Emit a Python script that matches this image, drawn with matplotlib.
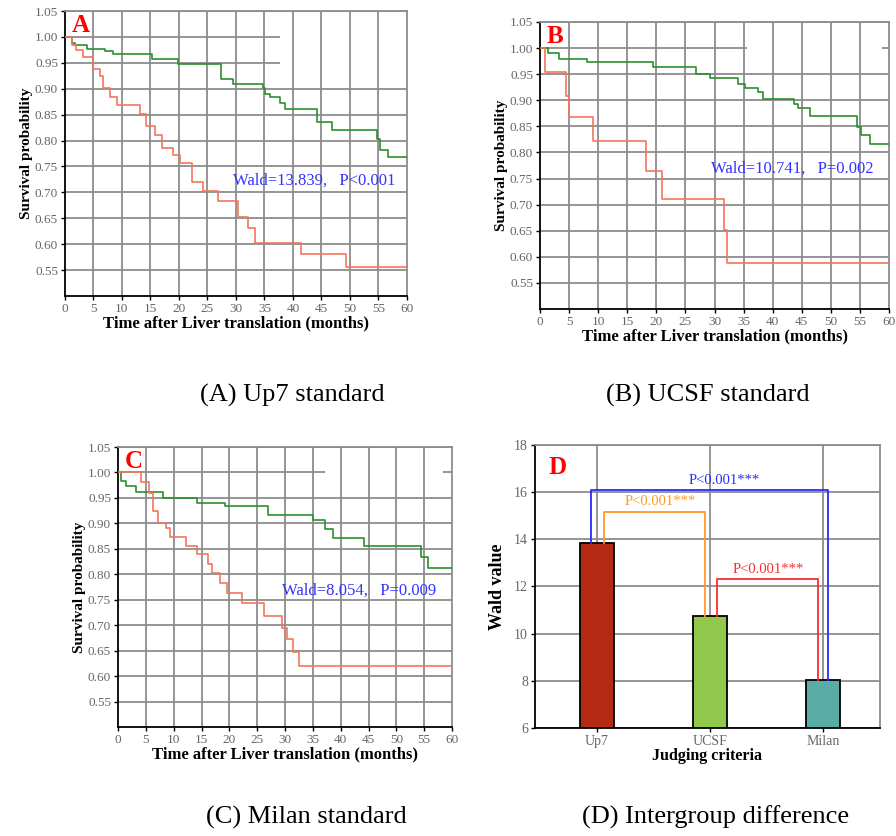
import matplotlib
matplotlib.use("Agg")
import matplotlib.pyplot as plt
from matplotlib.patches import Rectangle

plt.rcParams["font.family"] = ["Liberation Serif", "DejaVu Serif"]

# Kaplan-Meier curves: step times (months) and survival after each step.
a_green_t = [0, 1.2, 1.8, 3.9, 7.0, 8.5, 15.2, 19.9, 27.4, 29.5, 34.8, 35.1, 36.0, 37.7, 38.6, 44.3, 46.9, 54.8, 55.3, 56.7, 60]
a_green_s = [1.00, 0.989, 0.985, 0.976, 0.973, 0.968, 0.958, 0.948, 0.919, 0.910, 0.901, 0.890, 0.884, 0.873, 0.860, 0.836, 0.820, 0.803, 0.782, 0.768, 0.768]
a_red_t = [0, 1.2, 2.0, 3.1, 5.0, 6.1, 6.7, 7.9, 9.1, 13.2, 14.2, 15.8, 17.1, 19.0, 20.2, 22.2, 24.2, 26.9, 30.3, 32.1, 33.3, 41.4, 49.3, 60]
a_red_s = [1.00, 0.984, 0.975, 0.961, 0.938, 0.925, 0.901, 0.885, 0.868, 0.852, 0.828, 0.810, 0.785, 0.772, 0.756, 0.720, 0.702, 0.683, 0.653, 0.631, 0.603, 0.581, 0.556, 0.556]

b_green_t = [0, 1.3, 3.3, 8.0, 19.5, 26.8, 29.2, 34.1, 35.2, 37.4, 38.4, 43.6, 44.4, 46.4, 54.5, 55.2, 56.8, 60]
b_green_s = [1.00, 0.990, 0.980, 0.973, 0.963, 0.951, 0.942, 0.932, 0.924, 0.915, 0.902, 0.892, 0.885, 0.869, 0.849, 0.834, 0.817, 0.817]
b_red_t = [0, 0.9, 4.4, 4.9, 9.1, 18.2, 21.0, 31.7, 32.2, 60]
b_red_s = [1.00, 0.954, 0.908, 0.867, 0.821, 0.765, 0.710, 0.651, 0.589, 0.589]

c_green_t = [0, 0.6, 1.5, 3.2, 8.0, 14.2, 19.3, 26.9, 35.1, 37.1, 38.6, 44.1, 54.5, 55.7, 60]
c_green_s = [1.00, 0.984, 0.974, 0.961, 0.950, 0.940, 0.934, 0.916, 0.906, 0.888, 0.872, 0.855, 0.833, 0.812, 0.812]
c_red_t = [0, 4.1, 5.6, 6.3, 7.2, 8.6, 9.3, 12.3, 14.2, 16.2, 16.9, 18.4, 19.5, 22.2, 26.2, 29.5, 30.4, 31.4, 32.5, 60]
c_red_s = [1.00, 0.981, 0.960, 0.924, 0.901, 0.890, 0.874, 0.855, 0.840, 0.820, 0.803, 0.783, 0.764, 0.743, 0.718, 0.695, 0.673, 0.648, 0.619, 0.619]

wald_texts = ["Wald=13.839,   P<0.001", "Wald=10.741,   P=0.002", "Wald=8.054,   P=0.009"]

criteria = ["Up7", "UCSF", "Milan"]
wald_values = [13.839, 10.741, 8.054]
bar_colors = ["#b52a14", "#92c94c", "#59ada6"]

captions = ["(A) Up7 standard", "(B) UCSF standard", "(C) Milan standard", "(D) Intergroup difference"]

GREEN = "#2b8f2b"
RED = "#f2765c"
GRID = "#8c8c8c"
TICK = "#666666"

fig = plt.figure(figsize=(8.96, 8.36), dpi=100)

ax_a = fig.add_axes([0.0725, 0.6459, 0.3817, 0.3409])
ax_b = fig.add_axes([0.6027, 0.6304, 0.3895, 0.3433])
ax_c = fig.add_axes([0.1317, 0.1304, 0.3728, 0.3349])
ax_d = fig.add_axes([0.5971, 0.1292, 0.3850, 0.3385])


def survival_axes(ax, letter, green, red, text, text_y, blank):
    ax.set_xlim(0, 60)
    ax.set_ylim(0.50, 1.05)
    yt = [0.55 + 0.05 * i for i in range(11)]
    ax.set_yticks(yt)
    ax.set_yticklabels([f"{v:.2f}" for v in yt])
    ax.set_xticks(range(0, 61, 5))
    ax.set_axisbelow(True)
    ax.grid(axis="y", color=GRID, lw=1.3)
    # white patch over some horizontal grid lines, as in the source
    ax.add_patch(Rectangle((blank[0], blank[2]), blank[1] - blank[0], blank[3] - blank[2],
                           facecolor="white", edgecolor="none", zorder=0.7))
    for x in range(5, 60, 5):
        ax.axvline(x, color=GRID, lw=1.3, zorder=0.9)
    ax.step(green[0], green[1], where="post", color=GREEN, lw=1.2, zorder=3)
    ax.step(red[0], red[1], where="post", color=RED, lw=1.2, zorder=3)
    ax.text(29.4, text_y, text, color="#3333ff", fontsize=12, va="center")
    ax.text(1.2, 1.022, letter, color="red", fontsize=18, fontweight="bold", va="center")
    ax.tick_params(labelsize=9.5, labelcolor=TICK, length=3, width=1, pad=2)
    for s in ["top", "right"]:
        ax.spines[s].set_color(GRID)
        ax.spines[s].set_linewidth(1.3)
    for s in ["left", "bottom"]:
        ax.spines[s].set_linewidth(1.3)
    ax.set_xlabel("Time after Liver translation (months)", fontsize=12, fontweight="bold", labelpad=0)
    ax.set_ylabel("Survival probability", fontsize=11, fontweight="bold", labelpad=1)


survival_axes(ax_a, "A", (a_green_t, a_green_s), (a_red_t, a_red_s), wald_texts[0], 0.723, (37.7, 60, 0.948, 1.04))
survival_axes(ax_b, "B", (b_green_t, b_green_s), (b_red_t, b_red_s), wald_texts[1], 0.768, (35.5, 58.8, 0.952, 1.035))
survival_axes(ax_c, "C", (c_green_t, c_green_s), (c_red_t, c_red_s), wald_texts[2], 0.768, (37.1, 58.4, 0.97, 1.04))

# Panel D: Wald values with significance brackets
x = list(range(len(criteria)))
ax_d.set_axisbelow(True)
ax_d.bar(x, wald_values, width=0.30, color=bar_colors, edgecolor="black", lw=1.3, zorder=2)
ax_d.set_xlim(-0.545, 2.5)
ax_d.set_ylim(6, 18)
ax_d.set_yticks(range(6, 19, 2))
ax_d.set_xticks(x)
ax_d.set_xticklabels(criteria)
ax_d.grid(color=GRID, lw=1.3)
ax_d.tick_params(labelsize=10, labelcolor=TICK, length=3, width=1, pad=2)
for s in ["top", "right"]:
    ax_d.spines[s].set_color(GRID)
    ax_d.spines[s].set_linewidth(1.3)
for s in ["left", "bottom"]:
    ax_d.spines[s].set_linewidth(1.3)
ax_d.set_ylabel("Wald value", fontsize=13, fontweight="bold", labelpad=6)
ax_d.set_xlabel("Judging criteria", fontsize=11.5, fontweight="bold", labelpad=0)
ax_d.text(0.04, 0.92, "D", transform=ax_d.transAxes, color="red", fontsize=18,
          fontweight="bold", va="center")

brackets = [
    (0, 2, -0.05, 0.044, 16.09, "#2a2aff", 1.13, 16.5),
    (0, 1, 0.06, -0.04, 15.17, "#ff9a2a", 0.56, 15.6),
    (1, 2, 0.06, -0.045, 12.31, "#ff2a2a", 1.51, 12.7),
]
for i, j, di, dj, top, col, tx, ty in brackets:
    xi, xj = x[i] + di, x[j] + dj
    ax_d.plot([xi, xi, xj, xj], [wald_values[i], top, top, wald_values[j]], color=col, lw=1.3, zorder=3)
    ax_d.text(tx, ty, "P<0.001***", color=col, fontsize=10.5, ha="center", va="center")

fig.text(0.326, 0.527, captions[0], fontsize=19, ha="center", va="center")
fig.text(0.790, 0.527, captions[1], fontsize=19, ha="center", va="center")
fig.text(0.342, 0.022, captions[2], fontsize=19, ha="center", va="center")
fig.text(0.799, 0.022, captions[3], fontsize=19, ha="center", va="center")

fig.savefig("out.png", dpi=100)
